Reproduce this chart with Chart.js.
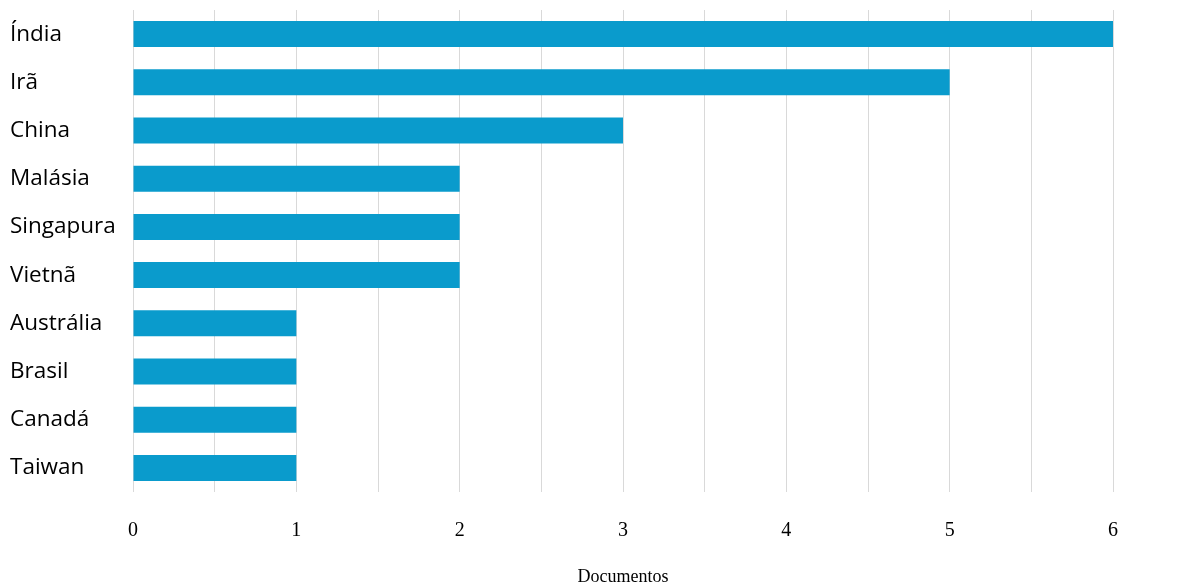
<!DOCTYPE html>
<html>
<head>
<meta charset="utf-8">
<script src="https://cdn.jsdelivr.net/npm/chart.js@4"></script>
<style>
    html, body { margin: 0; padding: 0; background: #fff; }
    #wrap { width: 1192px; height: 588px; }
</style>
</head>
<body>
<div id="wrap"><canvas id="chartPaises"></canvas></div>
<script>
    const paises = ['Índia', 'Irã', 'China', 'Malásia', 'Singapura', 'Vietnã', 'Austrália', 'Brasil', 'Canadá', 'Taiwan'];
    const documentos = [6, 5, 3, 2, 2, 2, 1, 1, 1, 1];
    const xMin = 0;
    const xMax = 6;

    const ctx = document.getElementById('chartPaises').getContext('2d');
    const chart = new Chart(ctx, {
        type: 'bar',
        data: {
            labels: paises,
            datasets: [{
                label: 'Documentos',
                data: documentos,
                backgroundColor: '#0a9bcc',
                borderWidth: 0,
                barPercentage: 0.54,
                categoryPercentage: 1
            }]
        },
        options: {
            indexAxis: 'y',
            responsive: true,
            maintainAspectRatio: false,
            animation: false,
            layout: {
                padding: { left: 10, right: 79, top: 0, bottom: 0 }
            },
            plugins: {
                legend: { display: false },
                tooltip: { enabled: false }
            },
            scales: {
                x: {
                    min: xMin,
                    max: xMax,
                    afterFit: function (axis) { axis.height = 96; },
                    border: { display: false },
                    grid: { color: '#d9d9d9', drawTicks: false, lineWidth: 1 },
                    ticks: {
                        stepSize: 0.5,
                        autoSkip: false,
                        maxRotation: 0,
                        padding: 27,
                        color: '#000',
                        font: { family: '"Liberation Serif", "Times New Roman", serif', size: 20 },
                        callback: function (value) {
                            return Number.isInteger(value) ? value : '';
                        }
                    },
                    title: {
                        display: true,
                        text: 'Documentos',
                        color: '#000',
                        padding: { top: 0, bottom: 0 },
                        font: { family: '"Liberation Serif", "Times New Roman", serif', size: 18 }
                    }
                },
                y: {
                    afterFit: function (axis) {
                        axis.width = 123;
                        // keep the plot top at 10px, labels don't need extra room
                        axis.paddingTop = 10;
                        axis.paddingBottom = 0;
                    },
                    border: { display: false },
                    grid: { display: false },
                    ticks: {
                        crossAlign: 'far',
                        color: '#000',
                        font: { family: '"Open Sans", "Noto Sans", sans-serif', size: 22.5 }
                    }
                }
            }
        }
    });
</script>
</body>
</html>
